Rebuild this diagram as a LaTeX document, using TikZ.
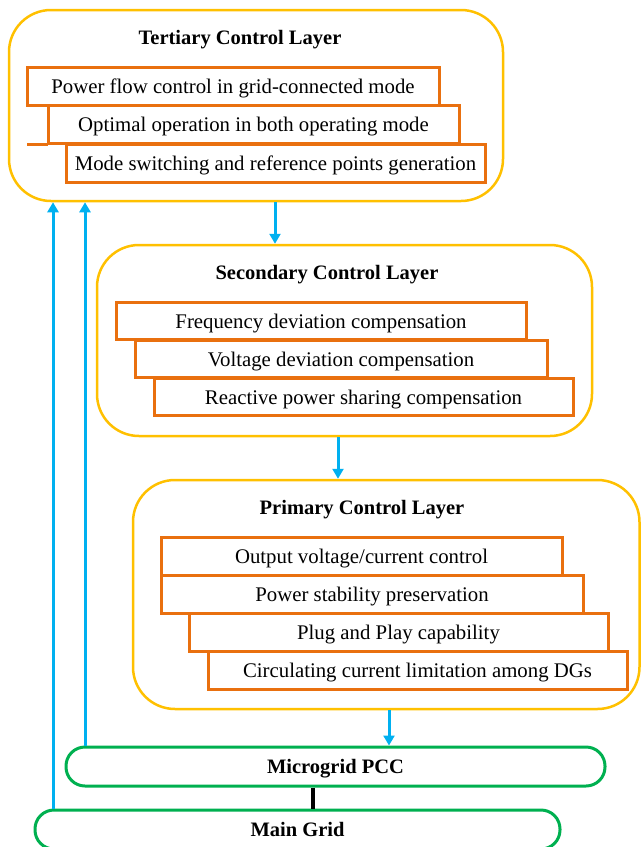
\documentclass[tikz,border=0pt]{standalone}
\usepackage{fontspec}
\setmainfont{Liberation Serif}
\usetikzlibrary{arrows.meta}
\definecolor{lyel}{HTML}{FFC000}
\definecolor{lorg}{HTML}{E9700F}
\definecolor{lgrn}{HTML}{00B050}
\definecolor{lblu}{HTML}{00B0F0}
\begin{document}
\begin{tikzpicture}[x=1pt,y=-1pt,
  layerbox/.style={draw=lyel,line width=2.5pt,rounded corners=42pt,fill=white,minimum width=#1},
  taskbox/.style={draw=lorg,line width=3pt,fill=white,inner sep=0pt,minimum height=37.5pt,minimum width=#1,
     text height=14pt,text depth=0pt,font=\fontsize{20.8}{24}\selectfont},
  ttl/.style={font=\fontsize{20.5}{24}\selectfont\bfseries,inner sep=0pt,text height=14pt,text depth=0pt},
  gridbox/.style={draw=lgrn,line width=3pt,rounded corners=19pt,fill=white,minimum height=39pt,minimum width=#1,
     text height=14pt,text depth=0pt,font=\fontsize{20.5}{24}\selectfont\bfseries},
  arr/.style={draw=lblu,line width=3pt,-{Triangle[width=11pt,length=10pt]}},
]
\useasboundingbox (0,0) rectangle (641,847);
% Tertiary
\node[layerbox=494pt,minimum height=191pt] (tert) at (256,105.5) {};
\node[ttl] (tertT) at (240,37.5) {Tertiary Control Layer};
\node[taskbox=412pt] (t1) at (233,86.5) {Power flow control in grid-connected mode};
\node[taskbox=411pt] (t2) at (253.5,124.5) {Optimal operation in both operating mode};
\coordinate (t2ext) at (28,0 |- t2.south);
\draw[draw=lorg,line width=3pt,line cap=rect] (t2ext) -- (t2.south west);
\node[taskbox=419pt] (t3) at (275.5,163.5) {Mode switching and reference points generation};
% Secondary
\node[layerbox=495pt,minimum height=191pt] (sec) at (344.5,340.5) {};
\node[ttl] (secT) at (327,272.5) {Secondary Control Layer};
\node[taskbox=410pt] (s1) at (321,321) {Frequency deviation compensation};
\node[taskbox=412pt] (s2) at (341,359) {Voltage deviation compensation};
\node[taskbox=419pt] (s3) at (363.5,397) {Reactive power sharing compensation};
% Primary
\node[layerbox=506.5pt,minimum height=229pt] (pri) at (386.25,594.5) {};
\node[ttl] (priT) at (362,507.5) {Primary Control Layer};
\node[taskbox=401pt] (p1) at (361.5,556.5) {Output voltage/current control};
\node[taskbox=422pt] (p2) at (372,594.5) {Power stability preservation};
\node[taskbox=419pt] (p3) at (398.5,632.5) {Plug and Play capability};
\node[taskbox=419pt] (p4) at (417.5,670.5) {Circulating current limitation among DGs};
% Grid boxes
\node[gridbox=539pt] (pcc) at (335.5,766.5) {Microgrid PCC};
\node[gridbox=525pt] (mg) at (297.5,829.5) {Main Grid};
% connectors
\draw[arr] (275,0 |- tert.south) -- (275,0 |- sec.north);
\draw[arr] (338,0 |- sec.south) -- (338,0 |- pri.north);
\draw[arr] (389,0 |- pri.south) -- (389,0 |- pcc.north);
\draw[arr] (85,0 |- pcc.north) -- (85,0 |- tert.south);
\draw[arr] (53,0 |- mg.north) -- (53,0 |- tert.south);
\draw[line width=4pt,black] (313,0 |- pcc.south) -- (313,0 |- mg.north);
\end{tikzpicture}
\end{document}
